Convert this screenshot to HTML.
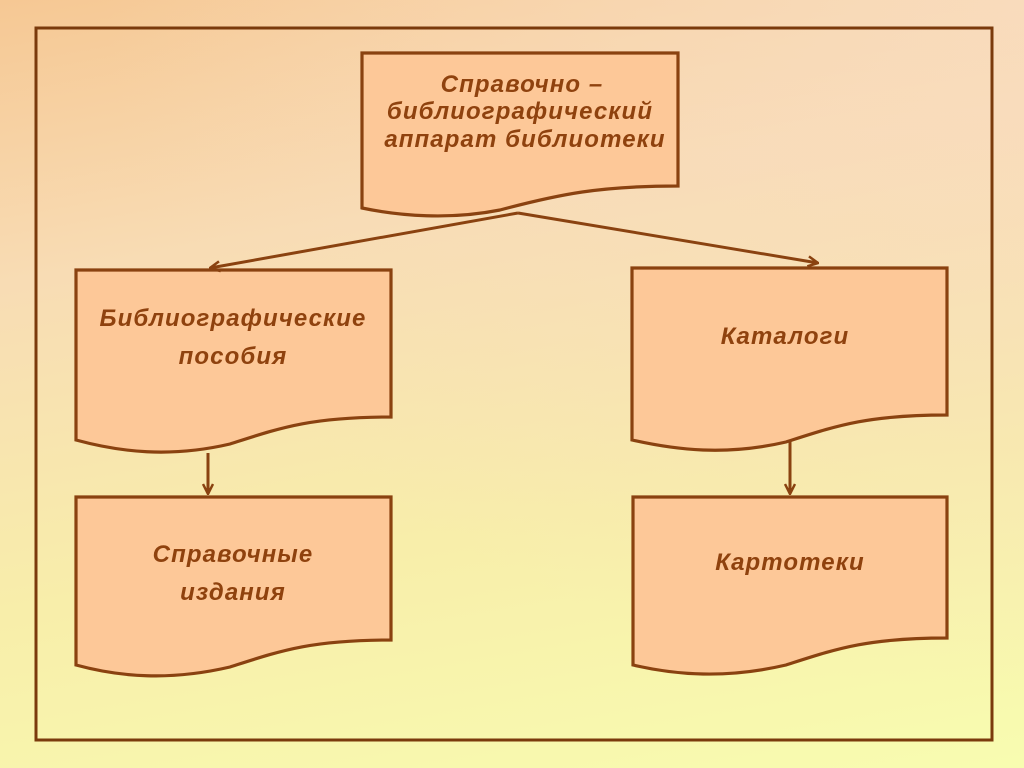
<!DOCTYPE html>
<html><head><meta charset="utf-8"><style>
html,body{margin:0;padding:0;width:1024px;height:768px;overflow:hidden}
body{background:linear-gradient(170deg,#f6c894 0%,#f8dcb4 30%,#f8eeaa 65%,#f8fcb0 100%)}
svg{display:block}
text{font-family:"Liberation Sans","DejaVu Sans",sans-serif;font-weight:bold;font-style:italic;font-size:24px;letter-spacing:1.1px;fill:#8f420e;text-anchor:middle}
</style></head><body>
<svg width="1024" height="768" viewBox="0 0 1024 768" xmlns="http://www.w3.org/2000/svg">
<defs>
<radialGradient id="bg" cx="1" cy="0" r="0.9"><stop offset="0" stop-color="#f9dcbe" stop-opacity="0.9"/><stop offset="1" stop-color="#f9dcbe" stop-opacity="0"/></radialGradient>
<marker id="ah" viewBox="0 0 12 12" refX="11" refY="6" markerWidth="12" markerHeight="12" markerUnits="userSpaceOnUse" orient="auto"><path d="M1,1 L11,6 L1,11" fill="none" stroke="#8a4210" stroke-width="2.5"/></marker>
</defs>
<rect width="1024" height="768" fill="url(#bg)"/>
<rect x="36" y="28" width="956" height="712" fill="none" stroke="#7a3a0c" stroke-width="3"/>
<g fill="#fdc898" stroke="#8a4210" stroke-width="3.2">
<path d="M362 53 H678 V186 C600 186 560 194 500 210 C450 220 400 216 362 208 Z"/>
<path d="M76 270 H391 V417 C310 417 280 428 230 444 C170 458 120 452 76 440 Z"/>
<path d="M632 268 H947 V415 C866 415 836 426 786 442 C726 456 676 450 632 440 Z"/>
<path d="M76 497 H391 V640 C310 640 280 651 230 667 C170 681 120 677 76 665 Z"/>
<path d="M633 497 H947 V638 C866 638 836 649 786 665 C726 679 676 675 633 665 Z"/>
</g>
<g stroke="#8a4210" stroke-width="3" fill="none">
<line x1="518" y1="213" x2="210" y2="268" marker-end="url(#ah)"/>
<line x1="518" y1="213" x2="818" y2="263" marker-end="url(#ah)"/>
<line x1="208" y1="453" x2="208" y2="494" marker-end="url(#ah)"/>
<line x1="790" y1="441" x2="790" y2="494" marker-end="url(#ah)"/>
</g>
<text x="522" y="92">Справочно –</text>
<text x="520" y="119">библиографический</text>
<text x="525" y="147">аппарат библиотеки</text>
<text x="233" y="326">Библиографические</text>
<text x="233" y="364">пособия</text>
<text x="785" y="344">Каталоги</text>
<text x="233" y="562">Справочные</text>
<text x="233" y="600">издания</text>
<text x="790" y="570">Картотеки</text>
</svg>
</body></html>
